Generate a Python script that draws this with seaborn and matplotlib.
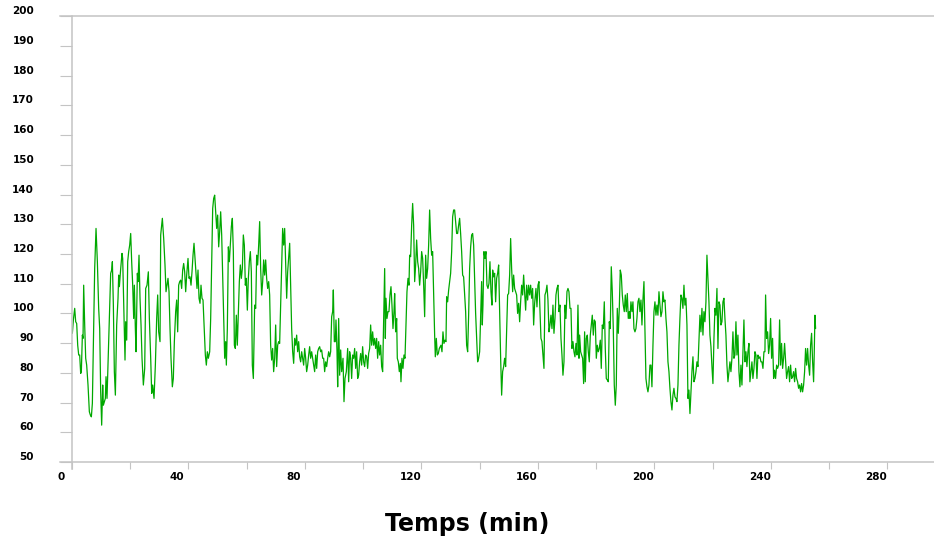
import matplotlib.pyplot as plt
import matplotlib.transforms as mtransforms
import numpy as np
import pandas as pd
import seaborn as sns

minutes = [
    0.21, 0.56, 1.02, 1.36, 1.70, 2.05, 2.39, 2.73, 3.07, 3.30,
    3.65, 3.88, 4.10, 4.45, 4.79, 5.13, 5.59, 6.05, 6.39, 6.74,
    7.08, 7.42, 7.88, 8.34, 8.80, 9.25, 9.60, 9.94, 10.28, 10.63,
    10.86, 11.20, 11.54, 11.77, 12.11, 12.57, 13.03, 13.37, 13.72, 13.95,
    14.29, 14.63, 14.98, 15.43, 15.89, 16.12, 16.35, 16.81, 17.26, 17.49,
    17.95, 18.29, 18.52, 18.87, 19.21, 19.55, 19.90, 20.24, 20.58, 20.93,
    21.27, 21.50, 21.84, 22.07, 22.30, 22.53, 22.76, 23.10, 23.44, 23.79,
    24.13, 24.59, 25.05, 25.39, 25.85, 26.30, 26.65, 27.11, 27.45, 27.79,
    28.25, 28.71, 29.16, 29.51, 29.85, 30.31,
    30.54, 31.11, 31.57, 32.02, 32.37, 32.71, 33.05, 33.40, 33.74, 34.08,
    34.54, 34.88, 35.23, 35.68, 36.03, 36.37, 36.71, 37.06, 37.40, 37.74,
    38.09, 38.43, 38.77, 39.12, 39.46, 39.92, 40.26, 40.61, 40.95, 41.29,
    41.64, 41.98, 42.32, 42.66, 43.01, 43.35, 43.70, 44.04, 44.38, 44.72,
    45.07, 45.53, 45.87, 46.21, 46.56, 46.90, 47.36, 47.70, 48.04, 48.39,
    48.73, 49.07, 49.42, 49.76, 50.10, 50.45, 50.79, 51.13, 51.48, 51.82,
    52.16, 52.51, 52.85, 53.08, 53.42, 53.77, 54.11, 54.45, 54.80, 55.14,
    55.48, 55.83, 56.17, 56.51, 56.85, 57.20, 57.54, 57.88, 58.23, 58.57,
    58.91, 59.26, 59.60, 59.94, 60.29, 60.63, 60.97, 61.32, 61.66, 62.00,
    62.35,
    62.80, 63.15, 63.49, 63.83, 64.18, 64.52, 64.86, 65.21, 65.55, 65.89,
    66.23, 66.58, 66.92, 67.26, 67.61, 67.95, 68.29, 68.64, 68.98, 69.32,
    69.67, 70.01, 70.35, 70.70, 71.04, 71.38, 71.73, 72.07, 72.41, 72.76,
    73.10, 73.44, 73.79, 74.13, 74.47, 74.82, 75.16, 75.50, 75.85, 76.19,
    76.53, 76.88, 77.22, 77.56, 77.91, 78.25, 78.59, 78.94, 79.28, 79.62,
    79.97, 80.31, 80.65, 81.00, 81.34, 81.68, 82.03, 82.37, 82.71, 83.06,
    83.40, 83.74, 84.09, 84.43, 84.77, 85.12, 85.46, 85.80, 86.15, 86.49,
    86.83, 87.18, 87.52, 87.86, 88.21, 88.55, 88.89, 89.24, 89.58, 89.81,
    90.15, 90.49, 90.72, 91.07, 91.30, 91.64, 91.98, 92.33, 92.67, 93.13,
    93.47, 93.81,
    94.27, 94.73, 95.07, 95.41, 95.76, 96.10, 96.44, 96.79, 97.13, 97.47,
    97.81, 98.16, 98.50, 98.84, 99.19, 99.53, 99.87, 100.22, 100.56, 100.90,
    101.25, 101.59, 101.93, 102.28, 102.62, 102.96, 103.31, 103.65, 103.99, 104.34,
    104.68, 105.02, 105.37, 105.71, 106.05, 106.40, 106.74, 107.08, 107.43, 107.66,
    107.88, 108.23, 108.57, 108.91, 109.26, 109.60, 109.94, 110.29, 110.63, 110.86,
    111.20, 111.55, 111.77, 112.12, 112.46, 112.81, 113.03, 113.38, 113.72, 114.06,
    114.41, 114.75, 115.09, 115.44, 115.78, 116.01, 116.35, 116.70, 117.04, 117.38,
    117.73, 118.07, 118.41, 118.76, 119.10, 119.44, 119.79, 120.13, 120.47, 120.82,
    121.16, 121.50, 121.84, 122.19, 122.53, 122.87, 123.22, 123.56, 123.90, 124.25,
    124.59, 124.82, 125.16, 125.51, 125.85, 126.19,
    126.76, 127.11, 127.45, 127.79, 128.14, 128.48, 128.71, 129.05, 129.40, 129.74,
    130.08, 130.43, 130.77, 131.11, 131.45, 131.80, 132.14, 132.48, 132.83, 133.17,
    133.51, 133.86, 134.20, 134.54, 134.89, 135.23, 135.57, 135.92, 136.26, 136.60,
    136.95, 137.29, 137.63, 137.98, 138.32, 138.66, 139.01, 139.35, 139.69, 140.04,
    140.38, 140.72, 140.95, 141.18, 141.52, 141.87, 142.21, 142.55, 142.90, 143.24,
    143.58, 143.93, 144.27, 144.50, 144.84, 145.19, 145.53, 145.87, 146.22, 146.56,
    146.90, 147.25, 147.59, 147.93, 148.28, 148.62, 148.96, 149.31, 149.65, 149.99,
    150.34, 150.68, 151.02, 151.37, 151.71, 152.05, 152.40, 152.74, 153.08, 153.43,
    153.77, 154.11, 154.46, 154.80, 155.14, 155.49, 155.83, 156.17, 156.52, 156.86,
    157.20, 157.55, 157.89, 158.23, 158.58, 158.92,
    159.37, 159.72, 160.06, 160.40, 160.75, 161.09, 161.43, 161.78, 162.12, 162.46,
    162.81, 163.15, 163.49, 163.84, 164.18, 164.52, 164.87, 165.21, 165.55, 165.90,
    166.24, 166.58, 166.93, 167.27, 167.61, 167.96, 168.30, 168.64, 168.99, 169.33,
    169.67, 170.02, 170.36, 170.70, 171.05, 171.39, 171.73, 172.08, 172.42, 172.76,
    173.11, 173.45, 173.79, 174.14, 174.36, 174.71, 175.05, 175.39, 175.74, 176.08,
    176.31, 176.65, 177.00, 177.34, 177.68, 178.03, 178.37, 178.71, 179.06, 179.40,
    179.74, 180.09, 180.43, 180.77, 181.12, 181.46, 181.80, 182.15, 182.49, 182.83,
    183.17, 183.52, 183.86, 184.20, 184.55, 184.89, 185.23, 185.58, 185.92, 186.26,
    186.61, 186.95, 187.29, 187.64, 187.98, 188.32, 188.67, 189.01, 189.35, 189.70,
    190.04, 190.38, 190.73, 191.07, 191.41,
    191.64, 191.98, 192.33, 192.67, 193.01, 193.36, 193.70, 194.04, 194.39, 194.73,
    195.07, 195.42, 195.76, 196.10, 196.45, 196.79, 197.13, 197.48, 197.82, 198.16,
    198.51, 198.85, 199.19, 199.54, 199.88, 200.22, 200.57, 200.91, 201.25, 201.60,
    201.94, 202.28, 202.63, 202.97, 203.31, 203.66, 204.00, 204.34, 204.69, 205.03,
    205.37, 205.71, 206.06, 206.40, 206.74, 207.09, 207.43, 207.77, 208.12, 208.46,
    208.80, 209.15, 209.49, 209.83, 210.18, 210.52, 210.86, 211.21, 211.55, 211.89,
    212.24, 212.58, 212.92, 213.27, 213.61, 213.95, 214.30, 214.64, 214.98, 215.33,
    215.67, 216.01, 216.36, 216.70, 217.04, 217.39, 217.73, 218.07, 218.42, 218.76,
    219.10, 219.45, 219.79, 220.13, 220.48, 220.82, 221.16, 221.51, 221.85, 222.19,
    222.54, 222.88, 223.22, 223.57, 223.91,
    224.25, 224.59, 224.94, 225.28, 225.62, 225.97, 226.31, 226.65, 227.00, 227.34,
    227.68, 228.03, 228.37, 228.71, 229.06, 229.40, 229.74, 230.09, 230.43, 230.77,
    231.12, 231.46, 231.80, 232.15, 232.49, 232.83, 233.18, 233.52, 233.86, 234.21,
    234.55, 234.89, 235.24, 235.58, 235.92, 236.27, 236.61, 236.95, 237.30, 237.64,
    237.98, 238.21, 238.55, 238.90, 239.24, 239.58, 239.93, 240.27, 240.61, 240.96,
    241.30, 241.64, 241.99, 242.33, 242.67, 243.02, 243.36, 243.70, 244.05, 244.39,
    244.73, 245.08, 245.42, 245.76, 246.11, 246.45, 246.79, 247.14, 247.48, 247.82,
    248.17, 248.51, 248.85, 249.20, 249.54, 249.88, 250.23, 250.57, 250.91, 251.26,
    251.60, 251.94, 252.29, 252.63, 252.97, 253.32, 253.66, 254.00, 254.35, 254.69,
    254.92, 255.15, 255.37,
]

valeurs = [
    93.3, 97.8, 101.7, 97.2, 96.6, 89.3, 86.0, 86.0, 79.8, 80.4,
    92.7, 91.6, 109.5, 96.1, 84.9, 82.6, 75.9, 66.9, 65.8, 65.2,
    69.7, 89.3, 115.1, 128.6, 117.4, 101.7, 94.9, 73.6, 62.4, 75.9,
    69.1, 70.3, 71.4, 78.7, 71.4, 87.1, 102.8, 113.5, 114.6, 117.4,
    102.8, 80.4, 72.5, 96.1, 105.1, 112.9, 109.0, 115.1, 120.2, 118.5,
    99.4, 84.3, 97.2, 91.0, 117.4, 120.8, 123.0, 126.9, 117.4, 109.5,
    98.3, 109.5, 94.9, 87.1, 100.6, 113.5, 110.7, 119.6, 105.1, 96.1,
    84.9, 75.9, 81.5, 108.4, 109.5, 114.0, 98.3, 84.9, 73.1, 75.9,
    71.4, 82.6, 98.3, 106.2, 93.8, 90.5,
    126.4, 132.0, 125.2, 116.3, 107.3, 109.5, 111.8, 107.3, 94.9, 84.9,
    75.3, 78.1, 90.5, 100.6, 104.5, 93.8, 109.5, 110.7, 111.2, 108.4,
    114.6, 116.8, 114.0, 107.3, 112.9, 118.5, 111.8, 112.3, 109.5, 114.0,
    119.6, 123.6, 118.5, 112.9, 108.4, 114.6, 105.1, 103.4, 109.5, 105.1,
    104.5, 93.8, 86.0, 82.6, 87.1, 84.9, 87.1, 98.3, 117.4, 135.3,
    138.7, 139.8, 134.2, 128.6, 133.1, 122.4, 127.5, 134.2, 126.4, 112.9,
    98.3, 84.9, 90.5, 82.6, 94.9, 122.4, 117.4, 123.0, 129.2, 132.0,
    120.8, 89.3, 88.2, 99.4, 89.3, 100.6, 110.7, 116.3, 111.8, 115.1,
    126.4, 123.0, 109.5, 111.8, 101.1, 111.8, 117.4, 120.8, 114.0, 82.6,
    78.1,
    102.8, 101.7, 119.6, 116.3, 123.0, 130.9, 115.1, 106.2, 110.7, 118.0,
    112.9, 118.0, 111.8, 108.4, 110.7, 106.2, 89.3, 84.3, 88.2, 80.4,
    84.9, 96.1, 82.1, 89.3, 90.5, 89.9, 102.8, 116.3, 128.6, 123.0,
    128.6, 117.4, 105.1, 114.0, 118.5, 123.6, 108.4, 94.9, 87.1, 83.2,
    91.6, 89.3, 92.7, 87.1, 90.5, 85.4, 83.7, 87.1, 84.9, 82.6,
    88.2, 84.9, 80.4, 82.6, 86.0, 88.8, 84.9, 87.1, 84.9, 82.6,
    80.4, 86.0, 81.5, 87.1, 88.2, 88.8, 87.1, 87.7, 84.9, 84.9,
    80.4, 83.7, 82.1, 84.9, 87.1, 85.4, 87.1, 98.9, 100.6, 107.9,
    90.5, 90.5, 97.8, 87.1, 75.3, 98.3, 79.2, 87.7, 80.4, 84.9,
    70.3, 78.1,
    80.4, 88.2, 77.0, 87.1, 84.9, 78.1, 86.0, 84.9, 88.2, 81.5,
    87.1, 78.1, 79.2, 83.7, 86.5, 82.6, 88.8, 83.7, 82.1, 86.0,
    85.4, 81.5, 86.5, 88.2, 96.1, 89.3, 93.8, 89.3, 91.6, 88.2,
    91.6, 84.9, 90.5, 86.0, 89.3, 82.1, 80.4, 98.3, 115.1, 91.6,
    105.1, 98.3, 100.6, 100.6, 106.2, 109.0, 102.8, 94.9, 100.6, 106.7,
    93.8, 98.3, 84.9, 83.7, 80.4, 83.2, 77.0, 84.9, 81.5, 86.0,
    84.9, 96.1, 107.3, 111.8, 109.5, 119.6, 119.1, 129.7, 137.0, 129.7,
    110.7, 116.3, 124.7, 117.4, 115.1, 109.5, 114.0, 120.8, 118.5, 109.5,
    98.9, 119.6, 111.8, 115.1, 123.0, 134.8, 125.2, 119.6, 120.8, 106.2,
    92.7, 85.4, 91.6, 86.0, 86.5, 88.2,
    89.3, 87.1, 93.8, 89.9, 91.0, 90.5, 105.6, 103.9, 107.9, 110.7,
    113.5, 120.8, 132.5, 134.8, 134.8, 130.9, 126.9, 126.9, 129.7, 132.0,
    126.9, 120.8, 112.9, 112.3, 106.2, 100.6, 89.3, 87.1, 99.4, 115.1,
    122.4, 126.4, 126.9, 123.0, 111.8, 100.0, 91.6, 83.7, 84.9, 87.1,
    98.3, 110.7, 96.1, 102.8, 120.8, 118.5, 120.8, 109.5, 108.4, 110.1,
    117.4, 107.3, 102.8, 114.6, 112.3, 113.5, 103.9, 111.8, 113.5, 116.3,
    100.6, 84.9, 72.5, 80.4, 82.1, 84.9, 82.1, 94.9, 106.2, 106.7,
    112.9, 125.2, 115.1, 107.3, 112.9, 108.4, 107.3, 106.2, 100.0, 103.4,
    97.2, 103.9, 109.5, 106.2, 112.9, 106.7, 101.1, 109.5, 104.5, 109.5,
    106.2, 109.5, 105.1, 108.4, 96.1, 103.4,
    108.4, 102.2, 109.5, 110.7, 100.6, 91.6, 90.5, 86.0, 81.5, 106.2,
    107.3, 109.5, 104.5, 93.8, 96.1, 99.4, 94.9, 102.8, 93.3, 98.3,
    106.2, 108.4, 109.5, 100.6, 102.8, 91.6, 86.0, 79.2, 83.7, 102.8,
    98.3, 107.3, 108.4, 107.3, 101.7, 101.7, 88.2, 90.5, 87.1, 85.4,
    89.9, 86.0, 102.8, 84.9, 92.7, 87.1, 86.0, 84.9, 76.4, 93.8,
    77.0, 91.6, 92.7, 87.1, 83.7, 92.7, 96.1, 99.4, 92.7, 97.8,
    97.2, 84.9, 89.3, 87.1, 88.2, 91.0, 81.5, 96.1, 94.9, 103.9,
    88.2, 78.1, 77.6, 77.0, 97.2, 94.9, 115.7, 107.3, 94.9, 75.9,
    69.1, 75.9, 101.7, 93.3, 101.7, 114.6, 112.9, 106.2, 102.8, 100.6,
    106.2, 100.6, 106.7, 98.3, 100.6,
    98.3, 103.9, 100.6, 103.9, 94.9, 93.8, 94.9, 98.3, 103.9, 105.1,
    100.6, 104.5, 96.1, 104.5, 110.7, 93.8, 78.1, 75.3, 73.6, 75.9,
    82.6, 82.6, 75.3, 89.3, 100.6, 103.9, 99.4, 102.8, 99.4, 107.3,
    102.8, 98.9, 100.6, 107.3, 103.9, 104.5, 98.3, 93.8, 83.7, 80.4,
    74.8, 70.3, 67.5, 72.5, 74.8, 71.9, 71.4, 70.3, 75.9, 89.3,
    98.3, 106.2, 105.1, 101.7, 109.5, 102.8, 105.1, 96.1, 71.4, 74.2,
    66.3, 73.6, 80.4, 85.4, 77.0, 78.1, 80.4, 83.7, 82.1, 90.5,
    99.4, 93.8, 101.7, 92.7, 100.6, 97.2, 103.9, 119.6, 111.8, 103.9,
    92.7, 88.8, 82.1, 76.4, 91.6, 101.7, 99.4, 108.4, 88.2, 103.9,
    102.8, 96.1, 97.2, 103.9, 105.1,
    98.3, 92.7, 82.6, 77.0, 80.4, 83.7, 80.4, 84.9, 93.8, 84.9,
    86.0, 97.2, 86.0, 92.7, 80.4, 75.3, 82.6, 75.9, 87.1, 97.8,
    83.7, 87.1, 82.1, 87.1, 89.9, 77.0, 80.4, 83.7, 78.1, 81.5,
    87.1, 86.0, 78.1, 86.0, 84.9, 85.4, 83.7, 83.7, 81.5, 87.1,
    87.1, 106.2, 91.6, 93.8, 86.5, 89.3, 98.3, 84.9, 91.6, 78.1,
    80.9, 78.1, 82.6, 81.5, 82.6, 97.8, 82.6, 89.9, 81.5, 84.9,
    89.9, 83.7, 78.1, 80.4, 82.1, 77.0, 82.6, 78.1, 78.7, 80.4,
    77.0, 81.5, 78.1, 77.0, 74.8, 75.9, 73.6, 76.4, 73.6, 75.9,
    80.4, 88.2, 82.6, 88.2, 82.6, 79.2, 89.3, 93.3, 83.7, 77.0,
    87.1, 99.4, 94.9,
]

x_ticks = np.arange(0, 300, 20)
x_labels = [str(t) if t % 40 == 0 else "" for t in x_ticks]
y_ticks = np.arange(50, 201, 10)

sns.set_style("white")
plt.rcParams["font.family"] = ["DejaVu Sans"]
plt.rcParams["font.weight"] = "bold"

grey = "#c4c4c4"

fig = plt.figure(figsize=(9.34, 5.39), dpi=100)
# axes run a little past the right edge of the figure, like the original
ax = fig.add_axes([0.0768, 0.1429, 0.9356, 0.8269])

df = pd.DataFrame({"temps": minutes, "valeur": valeurs})
sns.lineplot(data=df, x="temps", y="valeur", ax=ax, color="#00a800",
             linewidth=0.9, estimator=None, sort=False)

ax.set_xlim(0, 300)
ax.set_ylim(50, 200)
ax.set_xlabel("")
ax.set_ylabel("")

ax.set_xticks(x_ticks)
ax.set_xticklabels(x_labels)
ax.set_yticks(y_ticks)

# the white style switches tick marks off, turn them back on
ax.tick_params(axis="x", bottom=True, direction="out", length=5, width=0.8,
               color=grey, pad=2.5, labelsize=7.5, labelcolor="black")
ax.tick_params(axis="y", left=True, direction="out", length=8.6, width=0.8,
               color=grey, pad=18.5, labelsize=7.5, labelcolor="black")

for side in ["left", "bottom", "top"]:
    ax.spines[side].set_color(grey)
    ax.spines[side].set_linewidth(1.1)
ax.spines["right"].set_visible(False)
# spines overshoot the corner by a tick length
ax.spines["bottom"].set_bounds(-4.1, 300)
ax.spines["top"].set_bounds(-4.1, 300)
ax.spines["left"].set_bounds(47.6, 200)

# labels sit slightly off their ticks in the original
dx = mtransforms.ScaledTranslation(-11 / 100, 0, fig.dpi_scale_trans)
dy = mtransforms.ScaledTranslation(0, 6 / 100, fig.dpi_scale_trans)
for lab in ax.get_xticklabels():
    lab.set_transform(lab.get_transform() + dx)
for lab in ax.get_yticklabels():
    lab.set_transform(lab.get_transform() + dy)

fig.text(0.5, 1 - 524 / 539, "Temps (min)", ha="center", va="center",
         fontsize=17, fontweight="bold", color="black")

plt.savefig("out.png", dpi=100)
